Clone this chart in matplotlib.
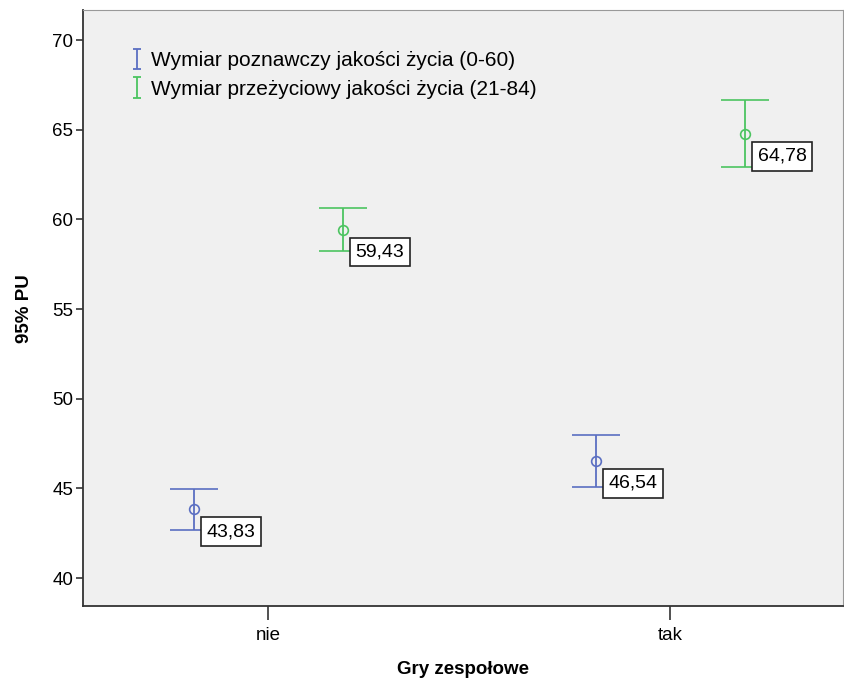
import numpy as np
import matplotlib
matplotlib.use("Agg")
import matplotlib.pyplot as plt

categories = ["nie", "tak"]
series_names = ["Wymiar poznawczy jakości życia (0-60)",
                "Wymiar przeżyciowy jakości życia (21-84)"]
means_poznawczy = [43.83, 46.54]
lower_poznawczy = [42.68, 45.10]
upper_poznawczy = [44.98, 47.96]
means_przezyciowy = [59.43, 64.78]
lower_przezyciowy = [58.22, 62.90]
upper_przezyciowy = [60.64, 66.66]
yticks = [40, 45, 50, 55, 60, 65, 70]

plt.rcParams["font.family"] = ["Liberation Sans", "DejaVu Sans"]

fig = plt.figure(figsize=(8.45, 6.84), dpi=100)
ax = fig.add_axes([0.0982, 0.114, 0.8994, 0.871])
ax.set_facecolor("#f0f0f0")

colors = ["#5b6fc2", "#4cc460"]
offsets = [-0.184, 0.187]
series = [(means_poznawczy, lower_poznawczy, upper_poznawczy),
          (means_przezyciowy, lower_przezyciowy, upper_przezyciowy)]

x = np.arange(len(categories))
handles = []
for (m, lo, hi), col, off, name in zip(series, colors, offsets, series_names):
    m = np.array(m)
    err = [m - np.array(lo), np.array(hi) - m]
    ax.errorbar(x + off, m, yerr=err, fmt="o", mfc="none", mec=col, ms=7,
                mew=1.2, ecolor=col, elinewidth=1.3, capsize=17, capthick=1.3)
    # legend proxy: small "I" glyph
    h = ax.errorbar([np.nan], [np.nan], yerr=[[1], [1]], fmt="none",
                    ecolor=col, elinewidth=1.3, capsize=3, capthick=1.3,
                    label=name)
    handles.append(h)
    for xi, mi in zip(x + off, m):
        ax.annotate(f"{mi:.2f}".replace(".", ","), (xi, mi),
                    xytext=(9, -10), textcoords="offset points",
                    ha="left", va="top", fontsize=14,
                    bbox=dict(boxstyle="square,pad=0.3", fc="white",
                              ec="#222222", lw=1.2))

ax.set_xlim(-0.46, 1.43)
ax.set_ylim(38.44, 71.67)
ax.set_xticks(x)
ax.set_xticklabels(categories, fontsize=13.5)
ax.set_yticks(yticks)
ax.set_yticklabels([str(t) for t in yticks], fontsize=13.5)
ax.tick_params(axis="x", length=10, width=1.2, color="#333333", pad=5)
ax.tick_params(axis="y", length=5, width=1.2, color="#333333", pad=2)
for s in ["top", "right"]:
    ax.spines[s].set_color("#999999")
for s in ["left", "bottom"]:
    ax.spines[s].set_color("#333333")
    ax.spines[s].set_linewidth(1.3)

ax.set_xlabel("Gry zespołowe", fontsize=13.5, fontweight="bold", labelpad=12)
ax.set_ylabel("95% PU", fontsize=13.5, fontweight="bold", labelpad=14)

leg = ax.legend(handles=handles, labels=series_names, loc="upper left",
                bbox_to_anchor=(0.055, 0.945), frameon=False,
                fontsize=15, handlelength=0.4, handletextpad=0.45,
                labelspacing=0.45, borderaxespad=0)

fig.savefig("out.png", dpi=100)
